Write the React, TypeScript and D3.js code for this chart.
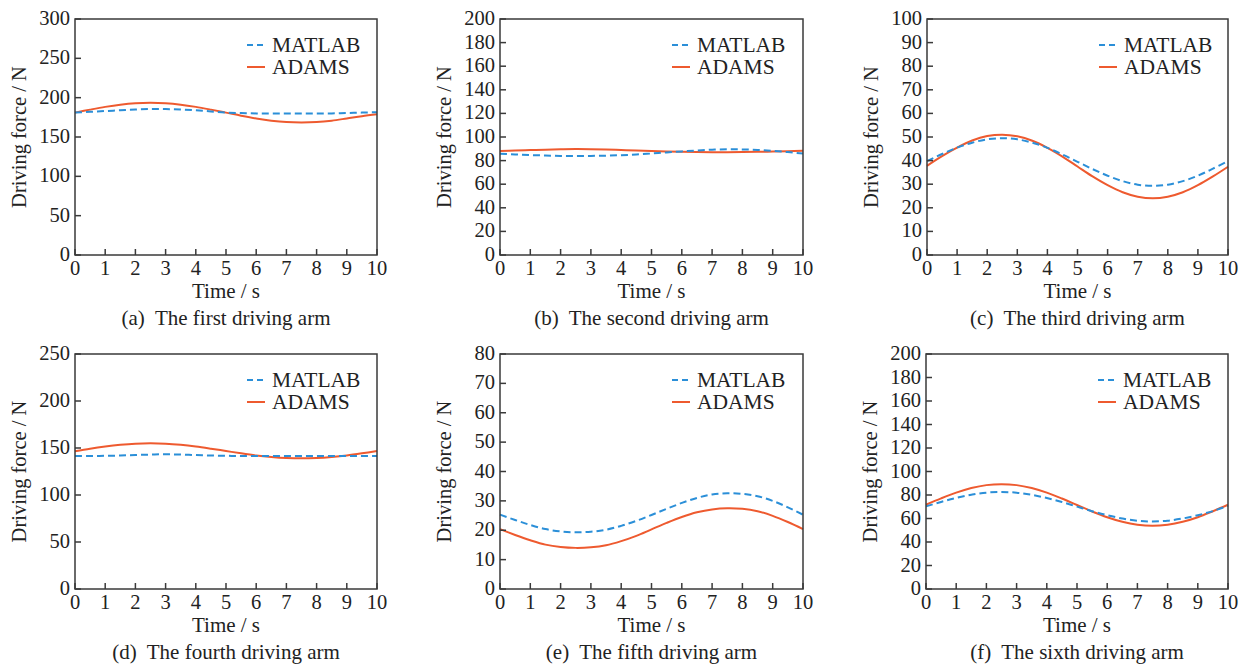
import React from 'react';
import * as d3 from 'd3';

// sample times (s)
const time = [0, 0.5, 1, 1.5, 2, 2.5, 3, 3.5, 4, 4.5, 5, 5.5, 6, 6.5, 7, 7.5, 8, 8.5, 9, 9.5, 10];
const xTicks = [0, 1, 2, 3, 4, 5, 6, 7, 8, 9, 10];

// (a) first arm
const matlabA = [181, 182, 183, 184, 185, 185.5, 185.5, 185, 184, 182.5, 181, 180.5, 180, 180, 180, 180, 180, 180, 180.5, 181, 181.5];
const adamsA = [181, 184.8, 188.3, 191.1, 192.9, 193.5, 192.9, 191.1, 188.3, 184.8, 181, 177.1, 173.6, 170.8, 169, 168.5, 169, 170.8, 173.6, 176.5, 179];
// (b) second arm
const matlabB = [85.8, 85.2, 84.7, 84.3, 84.0, 83.9, 84.0, 84.2, 84.6, 85.2, 86.0, 86.9, 87.8, 88.6, 89.3, 89.6, 89.5, 89.0, 88.2, 87.2, 86.0];
const adamsB = [88.2, 88.5, 88.9, 89.3, 89.6, 89.8, 89.7, 89.4, 89.0, 88.6, 88.1, 87.7, 87.4, 87.2, 87.1, 87.1, 87.2, 87.4, 87.7, 88.0, 88.3];
// (c) third arm
const matlabC = [39.8, 42.8, 45.5, 47.6, 49.0, 49.5, 49.0, 47.6, 45.4, 42.6, 39.5, 36.4, 33.6, 31.3, 29.8, 29.3, 29.8, 31.3, 33.6, 36.6, 39.8];
const adamsC = [37.8, 41.9, 45.5, 48.5, 50.4, 51.0, 50.3, 48.4, 45.4, 41.7, 37.5, 33.3, 29.6, 26.6, 24.7, 24.0, 24.7, 26.6, 29.6, 33.3, 37.4];
// (d) fourth arm
const matlabD = [141.5, 141.5, 141.7, 142, 142.5, 143, 143.3, 143, 142.5, 142, 141.7, 141.5, 141.5, 141.5, 141.5, 141.5, 141.5, 141.5, 141.5, 141.5, 141.5];
const adamsD = [146.5, 149.3, 151.6, 153.4, 154.6, 155, 154.6, 153.4, 151.6, 149.3, 146.8, 144.3, 142.1, 140.5, 139.4, 139, 139.4, 140.5, 142.1, 144.3, 146.8];
// (e) fifth arm
const matlabE = [25.3, 23.5, 21.8, 20.4, 19.6, 19.3, 19.5, 20.2, 21.5, 23.2, 25.2, 27.3, 29.3, 31.0, 32.2, 32.6, 32.4, 31.6, 30.0, 27.8, 25.3];
const adamsE = [20.4, 18.4, 16.6, 15.1, 14.3, 14.0, 14.2, 14.9, 16.3, 18.1, 20.3, 22.5, 24.5, 26.1, 27.1, 27.5, 27.3, 26.5, 24.9, 22.8, 20.4];
// (f) sixth arm
const matlabF = [70.3, 74.1, 77.5, 80.2, 82.0, 82.5, 82.0, 80.2, 77.4, 74.0, 70.1, 66.2, 62.8, 60.0, 58.1, 57.5, 58.1, 60.0, 62.8, 66.3, 70.8];
const adamsF = [71.7, 77.1, 82.0, 85.9, 88.4, 89.2, 88.4, 85.9, 82.0, 77.0, 71.5, 66.0, 61.1, 57.2, 54.7, 53.8, 54.7, 57.2, 61.1, 66.2, 71.7];

const yMaxes = [300, 200, 100, 250, 80, 200];
const yTicks = [
  [0, 50, 100, 150, 200, 250, 300],
  [0, 20, 40, 60, 80, 100, 120, 140, 160, 180, 200],
  [0, 10, 20, 30, 40, 50, 60, 70, 80, 90, 100],
  [0, 50, 100, 150, 200, 250],
  [0, 10, 20, 30, 40, 50, 60, 70, 80],
  [0, 20, 40, 60, 80, 100, 120, 140, 160, 180, 200],
];
const captions = [
  '(a)  The first driving arm',
  '(b)  The second driving arm',
  '(c)  The third driving arm',
  '(d)  The fourth driving arm',
  '(e)  The fifth driving arm',
  '(f)  The sixth driving arm',
];
const matlabSeries = [matlabA, matlabB, matlabC, matlabD, matlabE, matlabF];
const adamsSeries = [adamsA, adamsB, adamsC, adamsD, adamsE, adamsF];

// plot frames [left, top, right, bottom]
const frames = [
  [75, 19, 377, 255],
  [500, 19, 803, 255],
  [927, 19, 1228, 255],
  [75, 354, 377, 589],
  [500, 354, 803, 589],
  [926, 354, 1228, 589],
];

const BLUE = '#2b8fd8';
const RED = '#ee5a2f';
const AXIS = '#3a3a3a';
const TXT = '#222';
const FONT = 'Times New Roman';

const Panel = ({ i }: { i: number }) => {
  const [left, top, right, bottom] = frames[i];
  const x = d3.scaleLinear().domain([0, 10]).range([left, right]);
  const y = d3.scaleLinear().domain([0, yMaxes[i]]).range([bottom, top]);
  const line = d3.line<number>()
    .x((_, j) => x(time[j]))
    .y(d => y(d))
    .curve(d3.curveCatmullRom);
  const lx = left + 172;
  const legend = [
    { name: 'MATLAB', color: BLUE, dash: '6,4', dy: 26 },
    { name: 'ADAMS', color: RED, dash: undefined, dy: 48 },
  ];

  return (
    <g fontFamily={FONT} fill={TXT}>
      <path d={line(adamsSeries[i]) || ''} fill="none" stroke={RED} strokeWidth={2} />
      <path d={line(matlabSeries[i]) || ''} fill="none" stroke={BLUE} strokeWidth={2} strokeDasharray="7,4" />
      <rect x={left} y={top} width={right - left} height={bottom - top} fill="none" stroke={AXIS} strokeWidth={1.5} />

      {xTicks.map(t => (
        <g key={'x' + t}>
          <line x1={x(t)} x2={x(t)} y1={bottom} y2={bottom - 6} stroke={AXIS} strokeWidth={1.5} />
          <text x={x(t)} y={bottom + 20} textAnchor="middle" fontSize={20.5}>{t}</text>
        </g>
      ))}
      {yTicks[i].map(v => (
        <g key={'y' + v}>
          <line x1={left} x2={left + 6} y1={y(v)} y2={y(v)} stroke={AXIS} strokeWidth={1.5} />
          <text x={left - 5} y={y(v) + 6} textAnchor="end" fontSize={20.5}>{v}</text>
        </g>
      ))}

      <text x={(left + right) / 2} y={bottom + 43} textAnchor="middle" fontSize={21}>Time / s</text>
      <text
        transform={`translate(${left - 49},${(top + bottom) / 2}) rotate(-90)`}
        textAnchor="middle"
        fontSize={20.5}
      >
        Driving force / N
      </text>
      <text x={(left + right) / 2} y={bottom + 70} textAnchor="middle" fontSize={21} style={{ whiteSpace: 'pre' }}>
        {captions[i]}
      </text>

      {legend.map(l => (
        <g key={l.name}>
          <line x1={lx} x2={lx + 18} y1={top + l.dy} y2={top + l.dy} stroke={l.color} strokeWidth={2} strokeDasharray={l.dash} />
          <text x={lx + 25} y={top + l.dy + 7} fontSize={21.5}>{l.name}</text>
        </g>
      ))}
    </g>
  );
};

const App = () => (
  <div style={{ position: 'absolute', left: 0, top: 0 }}>
    <svg width={1246} height={665} style={{ display: 'block', background: '#fff' }}>
      {frames.map((_, i) => <Panel key={i} i={i} />)}
    </svg>
  </div>
);

export default App;
